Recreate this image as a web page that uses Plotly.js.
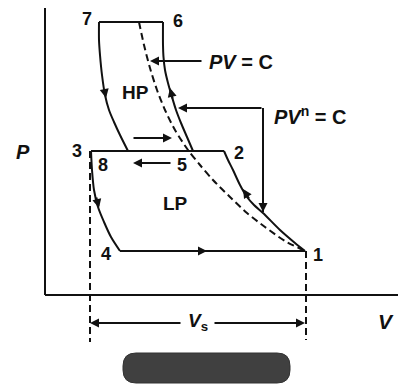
<!DOCTYPE html>
<html>
<head>
<meta charset="utf-8">
<script src="https://cdn.plot.ly/plotly-3.0.1.min.js"></script>
<style>html,body{margin:0;padding:0;background:#fff;}#chart{width:398px;height:385px;}</style>
</head>
<body>
<div id="chart"></div>
<script>
// ---- data (V, P in diagram units) ----
const axisV_V = [0, 353];   const axisV_P = [0, 0];
const axisP_V = [0, 0];     const axisP_P = [0, 287];

// LP cylinder
const lpCompV = [179, 183, 188, 195, 202, 209, 218, 235, 250, 260];
const lpCompP = [144, 135, 125, 110, 98, 90, 82, 65, 52, 44];
const lpDelV = [46, 179];   const lpDelP = [144, 144];
const lpExpV = [46, 47, 49, 53, 59, 66, 75];
const lpExpP = [144, 125, 105, 88, 73, 58, 44];
const lpSucV = [75, 260];   const lpSucP = [44, 44];

// HP cylinder
const hpCompV = [148, 142, 136, 131, 127, 123, 120, 118.5, 118, 118];
const hpCompP = [144, 158, 172, 185, 198, 212, 225, 238, 250, 273];
const hpDelV = [118, 54];   const hpDelP = [273, 273];
const hpExpV = [54, 54, 55, 57, 60, 64, 69, 75, 83];
const hpExpP = [273, 255, 240, 220, 200, 185, 173, 160, 144];

// isothermal PV = C
const isoV = [94, 99, 105, 112, 120, 130, 143, 155, 168, 185, 202, 220, 240, 260];
const isoP = [273, 250, 227, 205, 185, 165, 145, 130, 115, 98, 82, 68, 54, 44];

// swept-volume limits
const vsLeftV = [45, 45];   const vsLeftP = [144, -47];
const vsRightV = [261, 261]; const vsRightP = [44, -45];

// arrows: [tipV, tipP, tailV, tailP]
const arrows = [
  [105, 234, 158, 234],   // PV = C pointer
  [133, 187, 218, 187],   // PV^n pointer (to HP)
  [218, 83, 218, 187],    // PV^n pointer (to LP)
  [162, 44, 147, 44],     // suction 4-1
  [198, 106, 205, 95],    // LP compression
  [54, 87, 51, 99],       // LP expansion
  [61, 197, 59, 207],     // HP expansion
  [125, 207, 128, 195],   // HP compression
  [127, 157, 87, 157],    // flow right
  [88, 132, 127, 132],    // flow left
  [45, -28, 137, -28],    // Vs left
  [260, -28, 168, -28]    // Vs right
];

const pointLabels = ['7', '6', '3', '8', '5', '2', '4', '1'];
const pointV = [42, 133, 32, 58, 137, 194, 61, 273];
const pointP = [276, 274, 144, 130, 130, 142, 41, 40];

// ---- drawing ----
const black = '#111';
function ln(x, y, opts) {
  return Object.assign({
    x: x, y: y, type: 'scatter', mode: 'lines', hoverinfo: 'skip', showlegend: false,
    line: {color: black, width: 2}
  }, opts || {});
}
const curve = {color: black, width: 2, shape: 'spline', smoothing: 0.8};
const traces = [
  ln(axisV_V, axisV_P),
  ln(axisP_V, axisP_P),
  ln(lpCompV, lpCompP, {line: curve}),
  ln(lpDelV, lpDelP),
  ln(lpExpV, lpExpP, {line: curve}),
  ln(lpSucV, lpSucP),
  ln(hpCompV, hpCompP, {line: curve}),
  ln(hpDelV, hpDelP),
  ln(hpExpV, hpExpP, {line: curve}),
  ln(isoV, isoP, {line: {color: black, width: 2, dash: '7px,4px', shape: 'spline', smoothing: 0.8}}),
  ln(vsLeftV, vsLeftP, {line: {color: black, width: 2, dash: '7px,4px'}}),
  ln(vsRightV, vsRightP, {line: {color: black, width: 2, dash: '7px,4px'}}),
  ln([218, 218], [187, 83])
];

const FONT = 'Liberation Sans, Arial, sans-serif';
const annotations = [];
arrows.forEach(a => annotations.push({
  x: a[0], y: a[1], ax: a[2], ay: a[3], xref: 'x', yref: 'y', axref: 'x', ayref: 'y',
  text: '', showarrow: true, arrowhead: 2, arrowsize: 0.9, arrowwidth: 2, arrowcolor: black, standoff: 0
}));
pointLabels.forEach((t, i) => annotations.push({
  x: pointV[i], y: pointP[i], xref: 'x', yref: 'y', text: t, showarrow: false,
  font: {family: FONT, size: 18, color: black, weight: 'bold'}
}));
const txt = (x, y, t, size, anchor) => ({
  x: x, y: y, xref: 'x', yref: 'y', text: t, showarrow: false, xanchor: anchor || 'center',
  font: {family: FONT, size: size, color: black, weight: 'bold'}
});
annotations.push(txt(90, 203, 'HP', 19));
annotations.push(txt(130, 92, 'LP', 19));
annotations.push(txt(-22, 143, '<i>P</i>', 20));
annotations.push(txt(341, -26, '<i>V</i>', 21));
annotations.push(txt(153, -27, '<i>V</i><sub>s</sub>', 19));
annotations.push(txt(162, 233, '<i>PV</i> = C', 20, 'left'));
annotations.push(txt(227, 180, '<i>PV</i><sup>n</sup> = C', 20, 'left'));

const shapes = [{
  type: 'path', xref: 'x', yref: 'y',
  path: 'M 91,-58 L 232,-58 Q 245,-58 245,-71 L 245,-75 Q 245,-88 232,-88 L 91,-88 Q 78,-88 78,-75 L 78,-71 Q 78,-58 91,-58 Z',
  fillcolor: '#404040', line: {color: '#333', width: 1}
}];

const layout = {
  width: 398, height: 385,
  margin: {l: 0, r: 0, t: 0, b: 0},
  paper_bgcolor: '#fff', plot_bgcolor: '#fff',
  xaxis: {range: [-45, 353], visible: false, fixedrange: true},
  yaxis: {range: [-90, 295], visible: false, fixedrange: true},
  annotations: annotations,
  shapes: shapes,
  showlegend: false
};
Plotly.newPlot('chart', traces, layout, {staticPlot: true, displayModeBar: false});
</script>
</body>
</html>
